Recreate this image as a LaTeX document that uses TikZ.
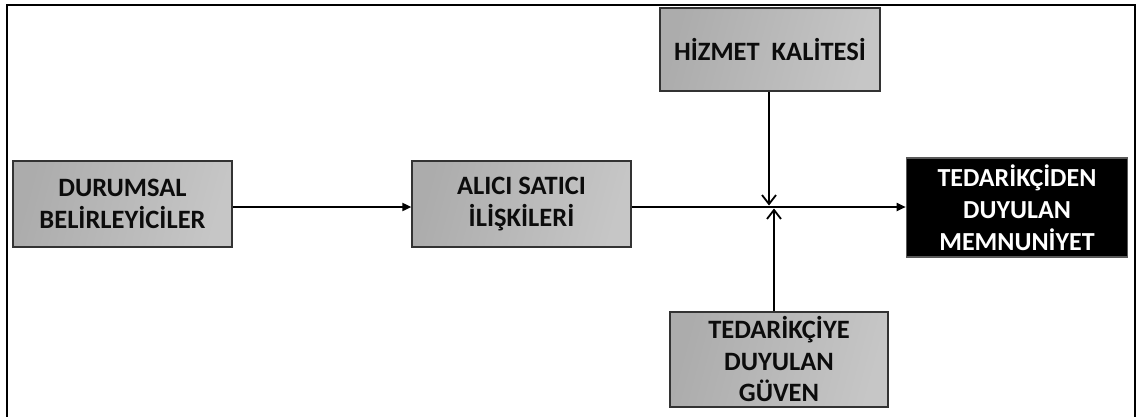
\documentclass[tikz,border=0pt]{standalone}
\usepackage{fontspec}
\setmainfont{Carlito}
\usetikzlibrary{arrows.meta}
\definecolor{boxdark}{HTML}{ACACAC}
\definecolor{boxlight}{HTML}{C6C6C6}
\definecolor{inktext}{HTML}{0C0C0C}
\begin{document}
\begin{tikzpicture}[x=1pt,y=-1pt,
  graybox/.style={draw=black!80, line width=1.2pt, left color=boxdark, right color=boxlight,
    shading angle=75, text=inktext, align=center, inner sep=0pt,
    font=\fontsize{26.5}{31.5}\selectfont\bfseries},
  darkbox/.style={draw=black!65, line width=1.6pt, fill=black, text=white, align=center,
    inner sep=0pt, font=\fontsize{26}{32}\selectfont\bfseries},
  flow/.style={line width=1.8pt, -{Triangle[length=9pt,width=8pt]}},
  meetarrow/.style={line width=1.8pt, -{Straight Barb[length=9pt,width=14pt,line width=1.8pt]}}]
\useasboundingbox (0,0) rectangle (1136,416);
% open frame: left, top and right edges
\draw[line width=2.2pt] (7,420) -- (7,5) -- (1135,5) -- (1135,420);

\node[graybox, minimum width=219pt, minimum height=86pt] (dur) at (122.5,204) {DURUMSAL\\BELİRLEYİCİLER};
\node[graybox, minimum width=219pt, minimum height=86pt] (ali) at (521.5,204) {ALICI SATICI\\İLİŞKİLERİ};
\node[graybox, minimum width=220pt, minimum height=83pt] (hiz) at (770,49.5) {HİZMET\ \ KALİTESİ};
\node[graybox, minimum width=218pt, minimum height=95pt] (guv) at (779,359.5) {TEDARİKÇİYE\\DUYULAN\\GÜVEN};
\node[darkbox, minimum width=221pt, minimum height=99pt] (mem) at (1017,207.5) {TEDARİKÇİDEN\\DUYULAN\\MEMNUNİYET};

\draw[flow] (dur.east |- 0,207) -- (ali.west |- 0,207);
\draw[flow] (ali.east |- 0,207) -- (mem.west |- 0,207);
\draw[meetarrow] (hiz.south -| 769,0) -- (769,205.5);
\draw[meetarrow] (guv.north -| 774,0) -- (774,208.5);
\end{tikzpicture}
\end{document}
